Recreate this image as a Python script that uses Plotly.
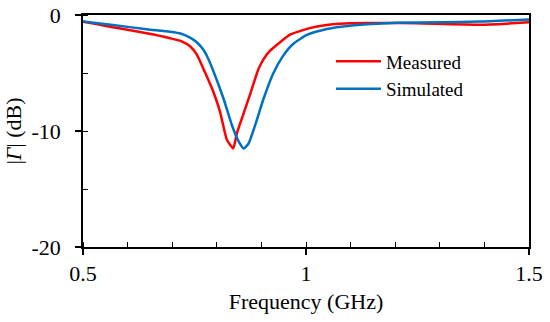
import plotly.graph_objects as go

# Measured data
freq_meas = [0.50, 0.53, 0.567, 0.60, 0.643, 0.695, 0.72, 0.74, 0.755, 0.773, 0.792, 0.807,
             0.822, 0.830, 0.837, 0.845, 0.860, 0.875, 0.893, 0.905, 0.919, 0.942, 0.964,
             0.993, 1.025, 1.06, 1.10, 1.17, 1.25, 1.39, 1.45, 1.50]
gamma_meas = [-0.58, -0.78, -1.06, -1.28, -1.58, -2.0, -2.25, -2.7, -3.4, -4.9, -6.6, -8.3,
              -10.7, -11.2, -11.5, -10.2, -8.5, -6.8, -4.7, -3.8, -3.1, -2.35, -1.7,
              -1.3, -1.0, -0.8, -0.72, -0.68, -0.72, -0.84, -0.75, -0.63]

# Simulated data
freq_sim = [0.50, 0.567, 0.643, 0.695, 0.72, 0.74, 0.755, 0.77, 0.78, 0.792, 0.815, 0.834,
            0.849, 0.860, 0.871, 0.886, 0.905, 0.927, 0.949, 0.971, 1.002, 1.038, 1.083,
            1.137, 1.204, 1.30, 1.39, 1.50]
gamma_sim = [-0.55, -0.86, -1.23, -1.45, -1.62, -1.95, -2.35, -3.0, -3.7, -4.8, -7.2, -9.5,
             -10.9, -11.5, -11.1, -9.5, -7.2, -5.0, -3.5, -2.5, -1.72, -1.29, -1.0,
             -0.8, -0.67, -0.62, -0.57, -0.38]

x_tickvals = [0.5, 1, 1.5]
x_ticktext = ["0.5", "1", "1.5"]
y_tickvals = [0, -10, -20]
y_ticktext = ["0", "-10", "-20"]

FONT = "Liberation Serif"

fig = go.Figure()
fig.add_trace(go.Scatter(x=freq_meas, y=gamma_meas, mode="lines", name="Measured",
                         line=dict(color="#FF0000", width=2.5, shape="spline", smoothing=0.5)))
fig.add_trace(go.Scatter(x=freq_sim, y=gamma_sim, mode="lines", name="Simulated",
                         line=dict(color="#0070C0", width=2.5, shape="spline", smoothing=0.5)))

fig.update_layout(
    width=550, height=322,
    margin=dict(l=83, r=21, t=15, b=75, autoexpand=False),
    paper_bgcolor="white", plot_bgcolor="white",
    font=dict(family=FONT, size=22, color="black"),
    showlegend=True,
    legend=dict(x=0.556, y=0.74, xanchor="left", yanchor="middle",
                bgcolor="rgba(0,0,0,0)", font=dict(size=19, family=FONT),
                tracegroupgap=0, itemwidth=45),
    xaxis=dict(range=[0.5, 1.5], tickvals=x_tickvals, ticktext=x_ticktext,
               ticks="outside", ticklen=6, tickwidth=1.5, tickcolor="black",
               showline=True, linecolor="black", linewidth=1.5, mirror=True,
               showgrid=False, zeroline=False, automargin=False,
               minor=dict(dtick=0.1, tick0=0.5, ticks="inside", ticklen=5,
                          tickwidth=1.2, tickcolor="black", showgrid=False),
               title=dict(text="Frequency (GHz)", font=dict(size=22, family=FONT), standoff=8)),
    yaxis=dict(range=[-20, 0], tickvals=y_tickvals, ticktext=y_ticktext,
               ticks="outside", ticklen=6, tickwidth=1.5, tickcolor="black",
               showline=True, linecolor="black", linewidth=1.5, mirror=True,
               showgrid=False, zeroline=False, automargin=False,
               ticklabelstandoff=10,
               minor=dict(dtick=5, tick0=0, ticks="inside", ticklen=5,
                          tickwidth=1.2, tickcolor="black", showgrid=False),
               title=dict(text="|<i>Γ</i>| (dB)", font=dict(size=22, family=FONT), standoff=4)),
)

fig.write_html("out.html", config={"displayModeBar": False},
               post_script="document.body.style.margin='0';")
